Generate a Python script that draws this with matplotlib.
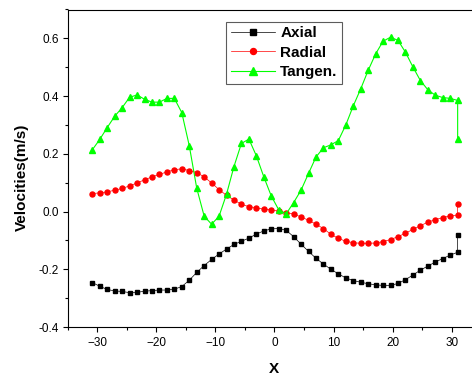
import matplotlib
matplotlib.use('Agg')
import matplotlib.pyplot as plt
from matplotlib.ticker import MultipleLocator

plt.rcParams['font.family'] = ['Liberation Sans', 'DejaVu Sans']

# Measurement positions along X (last position is sampled twice)
x = [-30.80, -29.54, -28.28, -27.02, -25.76, -24.49, -23.23, -21.97, -20.71, -19.45,
     -18.19, -16.93, -15.67, -14.40, -13.14, -11.88, -10.62, -9.36, -8.10, -6.84,
     -5.58, -4.31, -3.05, -1.79, -0.53, 0.73, 1.99, 3.25, 4.51, 5.77,
     7.04, 8.30, 9.56, 10.82, 12.08, 13.34, 14.60, 15.86, 17.12, 18.38,
     19.64, 20.91, 22.17, 23.43, 24.69, 25.95, 27.21, 28.47, 29.73, 31.00,
     31.00]

axial = [-0.246, -0.259, -0.270, -0.275, -0.277, -0.281, -0.280, -0.276, -0.274, -0.272,
         -0.272, -0.269, -0.260, -0.238, -0.211, -0.187, -0.166, -0.147, -0.130, -0.114,
         -0.103, -0.092, -0.078, -0.067, -0.060, -0.059, -0.065, -0.087, -0.113, -0.138,
         -0.162, -0.182, -0.200, -0.216, -0.230, -0.239, -0.245, -0.250, -0.254, -0.256,
         -0.256, -0.249, -0.236, -0.220, -0.203, -0.189, -0.175, -0.163, -0.151, -0.141,
         -0.080]

radial = [0.062, 0.065, 0.068, 0.074, 0.080, 0.089, 0.099, 0.110, 0.120, 0.129,
          0.137, 0.145, 0.148, 0.142, 0.135, 0.120, 0.099, 0.076, 0.056, 0.040,
          0.025, 0.017, 0.013, 0.008, 0.006, 0.001, -0.004, -0.008, -0.019, -0.030,
          -0.044, -0.059, -0.079, -0.093, -0.103, -0.108, -0.110, -0.110, -0.109, -0.104,
          -0.097, -0.087, -0.075, -0.062, -0.049, -0.037, -0.028, -0.021, -0.015, -0.012,
          0.027]

tangen = [0.214, 0.250, 0.291, 0.330, 0.360, 0.396, 0.404, 0.389, 0.379, 0.379,
          0.392, 0.392, 0.343, 0.228, 0.081, -0.016, -0.044, -0.016, 0.060, 0.156,
          0.236, 0.251, 0.193, 0.120, 0.054, 0.006, -0.008, 0.031, 0.074, 0.132,
          0.189, 0.221, 0.231, 0.246, 0.300, 0.366, 0.425, 0.489, 0.546, 0.590,
          0.604, 0.593, 0.552, 0.501, 0.454, 0.422, 0.403, 0.395, 0.392, 0.385,
          0.251]

fig = plt.figure(figsize=(4.72, 3.76), dpi=100)
# axes runs a little past the right edge of the figure
ax = fig.add_axes([67.5 / 472, 49 / 376, 413.8 / 472, 317.5 / 376])

ax.plot(x, axial, color='black', marker='s', ms=3.2, lw=0.5, label='Axial')
ax.plot(x, radial, color='red', marker='o', ms=3.6, lw=0.5, label='Radial')
ax.plot(x, tangen, color='#00ff00', marker='^', ms=5, lw=0.8, label='Tangen.')

ax.set_xlim(-35, 35)
ax.set_ylim(-0.4, 0.7)
ax.xaxis.set_major_locator(MultipleLocator(10))
ax.xaxis.set_minor_locator(MultipleLocator(5))
ax.yaxis.set_major_locator(MultipleLocator(0.2))
ax.yaxis.set_minor_locator(MultipleLocator(0.1))
ax.yaxis.set_major_formatter(plt.FuncFormatter(lambda v, p: f'{v:.1f}'))

ax.tick_params(which='major', direction='out', length=3.8, width=0.8, labelsize=8.5, pad=2.5)
ax.tick_params(which='minor', direction='out', length=2.0, width=0.8)
ax.tick_params(axis='x', which='major', pad=3.5)
for s in ax.spines.values():
    s.set_linewidth(0.8)

ax.set_xlabel('X', fontsize=11, fontweight='bold', labelpad=9)
ax.set_ylabel('Velocities(m/s)', fontsize=11, fontweight='bold', labelpad=7)
ax.yaxis.label.set_y(0.472)

leg = ax.legend(loc='upper left', bbox_to_anchor=(0.383, 0.961), borderaxespad=0,
                prop={'weight': 'bold', 'size': 11}, fancybox=False,
                edgecolor='#333333', handlelength=2.9, handletextpad=0.35,
                labelspacing=0.35, borderpad=0.3, markerscale=1.2)
leg.get_frame().set_linewidth(0.8)

plt.savefig('out.png', dpi=100)
